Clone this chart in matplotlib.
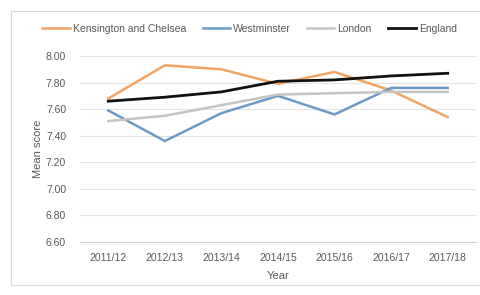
import matplotlib
matplotlib.use('Agg')
import matplotlib.pyplot as plt
from matplotlib.patches import Rectangle

# Data
years = ['2011/12', '2012/13', '2013/14', '2014/15', '2015/16', '2016/17', '2017/18']
kensington = [7.68, 7.93, 7.90, 7.79, 7.88, 7.74, 7.54]
westminster = [7.59, 7.36, 7.57, 7.70, 7.56, 7.76, 7.76]
london = [7.51, 7.55, 7.63, 7.71, 7.72, 7.73, 7.73]
england = [7.66, 7.69, 7.73, 7.81, 7.82, 7.85, 7.87]
yticks = [6.6, 6.8, 7.0, 7.2, 7.4, 7.6, 7.8, 8.0]

plt.rcParams['font.family'] = ['Liberation Sans', 'DejaVu Sans']
text_col = '#595959'

fig = plt.figure(figsize=(4.8, 2.95), dpi=100)
ax = fig.add_axes([80/480, 1 - 242/295, 396/480, (242-56)/295])

# light frame round the chart (right side runs off the picture)
fig.patches.append(Rectangle((11/480, 10/295), 480/480, 274/295, transform=fig.transFigure,
                             fill=False, edgecolor='#d9d9d9', linewidth=0.8))

x = range(len(years))
ax.plot(x, kensington, color='#f2a465', lw=1.8, label='Kensington and Chelsea')
ax.plot(x, westminster, color='#6b9ac7', lw=1.8, label='Westminster')
ax.plot(x, london, color='#c4c4c4', lw=1.8, label='London')
ax.plot(x, england, color='#111111', lw=2.0, label='England')

ax.set_xlim(-0.5, len(years) - 0.5)
ax.set_ylim(6.6, 8.0)
ax.set_yticks(yticks)
ax.set_yticklabels([f'{v:.2f}' for v in yticks])
ax.set_xticks(list(x))
ax.set_xticklabels(years)
ax.grid(axis='y', color='#e3e3e3', lw=0.8)
ax.set_axisbelow(True)
for s in ['top', 'right', 'left']:
    ax.spines[s].set_visible(False)
ax.spines['bottom'].set_color('#d0d0d0')
ax.tick_params(length=0, labelsize=7.5, colors=text_col, pad=8)
ax.tick_params(axis='y', pad=10)
ax.set_xlabel('Year', fontsize=8, color=text_col, labelpad=6)
ax.set_ylabel('Mean score', fontsize=8, color=text_col, labelpad=2)

fig.legend(loc='center', bbox_to_anchor=(0.52, 1 - 29/295), ncol=4, frameon=False,
           fontsize=7.5, labelcolor=text_col, handlelength=2.6, handletextpad=0.3,
           columnspacing=1.6)

fig.savefig('out.png', dpi=100)
